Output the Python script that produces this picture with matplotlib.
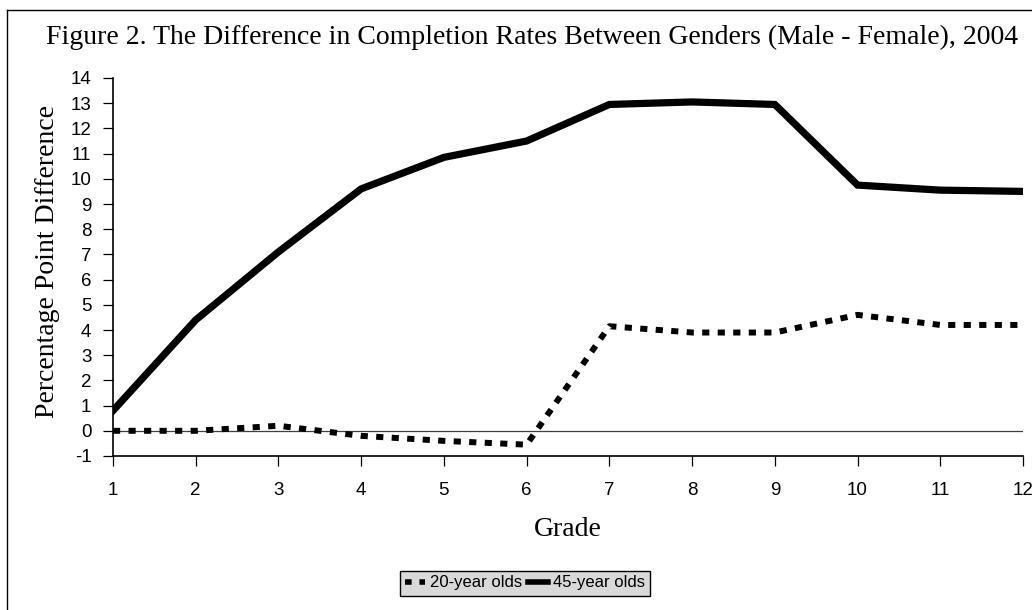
import matplotlib
matplotlib.use("Agg")
import matplotlib.pyplot as plt
from matplotlib.lines import Line2D

plt.rcParams["axes.unicode_minus"] = False

grades = [1, 2, 3, 4, 5, 6, 7, 8, 9, 10, 11, 12]
age20 = [0.0, 0.0, 0.2, -0.2, -0.4, -0.55, 4.15, 3.9, 3.9, 4.6, 4.2, 4.2]
age45 = [0.8, 4.4, 7.1, 9.6, 10.85, 11.5, 12.95, 13.05, 12.95, 9.75, 9.55, 9.5]

W, H = 1032, 610
fig = plt.figure(figsize=(W / 100, H / 100), dpi=100)
ax = fig.add_axes([113 / W, 1 - 456 / H, (1023 - 113) / W, (456 - 78) / H])

# outer chart border (only top and left edges are visible)
fig.add_artist(Line2D([7 / W, 7 / W], [-0.1, 1 - 10 / H], color="black", lw=1,
                      transform=fig.transFigure))
fig.add_artist(Line2D([7 / W, 1.1], [1 - 10 / H, 1 - 10 / H], color="black", lw=1,
                      transform=fig.transFigure))

ax.axhline(0, color="#404040", lw=0.9, zorder=1)
ax.plot(grades, age20, color="black", lw=4.3, linestyle=(0, (1.2, 1.4)),
        dash_capstyle="butt", label="20-year olds", zorder=3)
ax.plot(grades, age45, color="black", lw=5.2, solid_joinstyle="miter",
        label="45-year olds", zorder=3)

ax.set_xlim(1, 12)
ax.set_ylim(-1, 14)
ax.set_xticks(grades)
ax.set_yticks(range(-1, 15))
for s in ["top", "right"]:
    ax.spines[s].set_visible(False)
for s in ["left", "bottom"]:
    ax.spines[s].set_linewidth(1.2)
ax.tick_params(axis="both", direction="out", length=7.5, width=0.9,
               labelsize=13.5, labelfontfamily="Liberation Sans", colors="black")
ax.tick_params(axis="x", pad=11)
ax.tick_params(axis="y", pad=8)

serif = "Liberation Serif"
fig.text(532 / W, 1 - 37 / H, "Figure 2. The Difference in Completion Rates Between Genders (Male - Female), 2004",
         ha="center", va="center", fontsize=20, family=serif)
ax.set_ylabel("Percentage Point Difference", fontsize=20, family=serif)
ax.yaxis.set_label_coords(60 / W, 1 - 262 / H, transform=fig.transFigure)
ax.set_xlabel("Grade", fontsize=20, family=serif)
ax.xaxis.set_label_coords(568 / W, 1 - 517 / H, transform=fig.transFigure)

leg = ax.legend(loc="center", bbox_to_anchor=(525 / W, 1 - 583 / H),
                bbox_transform=fig.transFigure, ncol=2, frameon=True,
                fancybox=False, prop={"family": "Liberation Sans", "size": 12},
                handlelength=1.2, handletextpad=0.3, columnspacing=0.4,
                borderpad=0.3, borderaxespad=0)
leg.get_frame().set_facecolor("#d9d9d9")
leg.get_frame().set_edgecolor("black")
leg.get_frame().set_linewidth(1)
leg.get_frame().set_alpha(1)
for h in leg.get_lines():
    h.set_linewidth(4)

fig.savefig("out.png", dpi=100)
